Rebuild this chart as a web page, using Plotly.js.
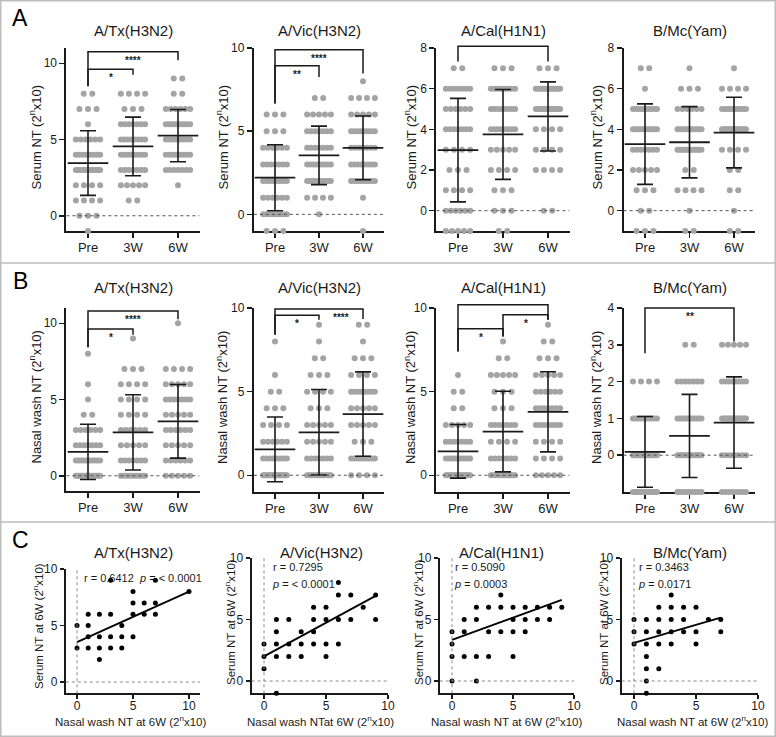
<!DOCTYPE html>
<html><head><meta charset="utf-8">
<script src="https://cdn.plot.ly/plotly-3.0.1.min.js"></script>
<style>body{margin:0;background:#fff}#chart{width:776px;height:737px}</style>
</head><body><div id="chart"></div>
<script>
// ---------------- DATA ----------------
const timepoints = ['Pre', '3W', '6W'];

// Panel A: serum NT, number of subjects at each titre level (levels high -> low)
const serumTxLevels = [9, 8, 7, 6, 5, 4, 3, 2, 1, 0, -1];
const serumTxPre = [0, 2, 3, 1, 6, 8, 12, 4, 4, 3, 1];
const serumTx3W  = [0, 4, 3, 7, 8, 8, 7, 5, 2, 0, 0];
const serumTx6W  = [2, 2, 6, 10, 8, 8, 7, 1, 0, 0, 0];

const serumVicLevels = [8, 7, 6, 5, 4, 3, 2, 1, 0, -1];
const serumVicPre = [0, 0, 3, 3, 6, 7, 8, 6, 8, 3];
const serumVic3W  = [0, 2, 5, 7, 7, 9, 9, 4, 1, 0];
const serumVic6W  = [1, 4, 5, 8, 7, 8, 9, 1, 0, 1];

const serumCalLevels = [7, 6, 5, 4, 3, 2, 1, 0, -1];
const serumCalPre = [2, 7, 6, 7, 4, 3, 4, 6, 5];
const serumCal3W  = [3, 8, 8, 8, 5, 4, 3, 3, 2];
const serumCal6W  = [3, 12, 15, 4, 4, 4, 0, 2, 0];

const serumMcLevels = [7, 6, 5, 4, 3, 2, 1, 0, -1];
const serumMcPre = [2, 1, 9, 12, 7, 5, 3, 2, 3];
const serumMc3W  = [1, 3, 6, 12, 13, 2, 4, 1, 2];
const serumMc6W  = [1, 4, 10, 18, 4, 2, 2, 1, 2];

// Panel B: nasal wash NT
const nasalTxLevels = [10, 9, 8, 7, 6, 5, 4, 3, 2, 1, 0];
const nasalTxPre = [0, 0, 1, 0, 1, 1, 2, 6, 7, 10, 16];
const nasalTx3W  = [0, 1, 0, 3, 4, 4, 4, 6, 5, 7, 10];
const nasalTx6W  = [1, 0, 0, 4, 5, 7, 5, 6, 5, 6, 5];

const nasalVicLevels = [9, 8, 7, 6, 5, 4, 3, 2, 1, 0];
const nasalVicPre = [0, 1, 0, 1, 2, 3, 4, 6, 8, 19];
const nasalVic3W  = [1, 1, 2, 3, 4, 3, 5, 5, 7, 13];
const nasalVic6W  = [2, 1, 3, 4, 8, 5, 5, 3, 9, 4];

const nasalCalLevels = [9, 8, 7, 6, 5, 4, 3, 2, 1, 0];
const nasalCalPre = [0, 0, 0, 1, 2, 2, 5, 7, 10, 17];
const nasalCal3W  = [0, 1, 2, 5, 3, 3, 7, 4, 7, 12];
const nasalCal6W  = [1, 2, 3, 5, 6, 7, 7, 4, 4, 5];

const nasalMcLevels = [3, 2, 1, 0, -1];
const nasalMcPre = [0, 4, 10, 16, 14];
const nasalMc3W  = [2, 7, 12, 14, 9];
const nasalMc6W  = [5, 8, 16, 7, 8];

// Panel C: nasal wash NT (x) vs serum NT (y) at 6W
const corrTxNasal  = [0, 0, 1, 1, 1, 1, 2, 2, 2, 2, 3, 3, 3, 3, 4, 4, 4, 5, 5, 5, 5, 6, 6, 7, 7, 7, 10];
const corrTxSerum  = [5, 3, 6, 5, 4, 3, 6, 4, 3, 2, 9, 6, 4, 3, 5, 4, 3, 8, 7, 6, 4, 7, 6, 9, 7, 6, 8];
const corrVicNasal = [0, 0, 0, 1, 1, 1, 1, 1, 2, 2, 2, 3, 3, 3, 4, 4, 4, 4, 5, 5, 5, 5, 6, 6, 6, 6, 7, 7, 8, 9, 9];
const corrVicSerum = [3, 2, 1, 5, 4, 3, 2, -1, 5, 3, 2, 4, 3, 2, 6, 5, 4, 3, 6, 5, 3, 2, 8, 7, 5, 3, 7, 5, 6, 7, 5];
const corrCalNasal = [0, 0, 0, 0, 1, 1, 1, 2, 2, 2, 2, 3, 3, 3, 4, 4, 4, 5, 5, 5, 5, 6, 6, 6, 7, 7, 8, 8, 9];
const corrCalSerum = [4, 3, 2, 0, 5, 4, 2, 6, 5, 2, 0, 6, 4, 2, 7, 6, 4, 6, 5, 4, 2, 6, 5, 4, 6, 5, 6, 5, 6];
const corrMcNasal  = [0, 0, 0, 1, 1, 1, 1, 1, 1, 1, 2, 2, 2, 2, 2, 3, 3, 3, 3, 3, 4, 4, 4, 5, 5, 5, 6, 7, 7];
const corrMcSerum  = [5, 4, 3, 5, 4, 3, 2, 1, 0, -1, 6, 5, 4, 3, 1, 7, 6, 5, 4, 3, 6, 5, 4, 6, 4, 3, 5, 5, 4];

const fitIntercept = [3.53, 2.0, 3.35, 3.1];
const fitSlope     = [0.447, 0.547, 0.36, 0.293];
const rValues = ['0.6412', '0.7295', '0.5090', '0.3463'];
const pValues = ['< 0.0001', '< 0.0001', '0.0003', '0.0171'];

const strainNames = ['A/Tx(H3N2)', 'A/Vic(H3N2)', 'A/Cal(H1N1)', 'B/Mc(Yam)'];

// ---------------- LAYOUT / STYLE ----------------
const W = 776, H = 737;
const F = 'Liberation Sans, Arial, Helvetica, sans-serif';
const INK = '#1a1a1a';
const DOT = '#a4a4a4';
const fx = p => p / W;
const fy = p => 1 - p / H;

const XR = [-0.48, 2.48];
const catPx = [[88, 178], [275, 363], [458, 548], [645, 734]];
const colDom = catPx.map(([a, b]) => { const s = (b - a) / 2; return [a + XR[0] * s, a + XR[1] * s]; });
const yTitleXA = [35, 222, 410, 596];

const SERUM_T = 'Serum NT (2<sup>n</sup>x10)';
const NASAL_T = 'Nasal wash NT (2<sup>n</sup>x10)';

const dotPanels = [
  {col: 0, levels: serumTxLevels, counts: [serumTxPre, serumTx3W, serumTx6W], yr: [-1, 11], yt: [0, 5, 10], py: [48, 231], ytitle: SERUM_T, titleY: 30,
   br: [{a: 0, b: 2, y: 10.76, la: 8.5, lb: 10.2, t: '****'}, {a: 0, b: 1, y: 9.61, la: 8.5, lb: 9.24, t: '*'}]},
  {col: 1, levels: serumVicLevels, counts: [serumVicPre, serumVic3W, serumVic6W], yr: [-1, 10], yt: [0, 5, 10], py: [48, 231], ytitle: SERUM_T, titleY: 30,
   br: [{a: 0, b: 2, y: 9.9, la: 6.66, lb: 8.46, t: '****'}, {a: 0, b: 1, y: 8.94, la: 6.66, lb: 8.26, t: '**'}]},
  {col: 2, levels: serumCalLevels, counts: [serumCalPre, serumCal3W, serumCal6W], yr: [-1, 8], yt: [0, 2, 4, 6, 8], py: [48, 231], ytitle: SERUM_T, titleY: 30,
   br: [{a: 0, b: 2, y: 8.08, la: 7.34, lb: 7.34, t: '**'}]},
  {col: 3, levels: serumMcLevels, counts: [serumMcPre, serumMc3W, serumMc6W], yr: [-1, 8], yt: [0, 2, 4, 6, 8], py: [48, 231], ytitle: SERUM_T, titleY: 30,
   br: []},
  {col: 0, levels: nasalTxLevels, counts: [nasalTxPre, nasalTx3W, nasalTx6W], yr: [-1, 11], yt: [0, 5, 10], py: [308, 491], ytitle: NASAL_T, titleY: 287,
   br: [{a: 0, b: 2, y: 10.8, la: 8.43, lb: 10.26, t: '****'}, {a: 0, b: 1, y: 9.63, la: 8.43, lb: 9.24, t: '*'}]},
  {col: 1, levels: nasalVicLevels, counts: [nasalVicPre, nasalVic3W, nasalVic6W], yr: [-1, 10], yt: [0, 5, 10], py: [308, 492], ytitle: NASAL_T, titleY: 287,
   br: [{a: 0, b: 2, y: 9.94, la: 8.4, lb: 9.34, t: '****', tx: 1.5}, {a: 0, b: 1, y: 9.56, la: 8.4, lb: 9.3, t: '*'}]},
  {col: 2, levels: nasalCalLevels, counts: [nasalCalPre, nasalCal3W, nasalCal6W], yr: [-1, 10], yt: [0, 5, 10], py: [308, 492], ytitle: NASAL_T, titleY: 287,
   br: [{a: 0, b: 2, y: 10.2, la: 7.4, lb: 9.3, t: '****'}, {a: 1, b: 2, y: 9.6, la: 8.3, lb: 9.3, t: '*'}, {a: 0, b: 1, y: 8.76, la: 7.4, lb: 8.3, t: '*'}]},
  {col: 3, levels: nasalMcLevels, counts: [nasalMcPre, nasalMc3W, nasalMc6W], yr: [-1, 4], yt: [0, 1, 2, 3, 4], py: [308, 492], ytitle: NASAL_T, titleY: 287,
   br: [{a: 0, b: 2, y: 4.0, la: 2.77, lb: 3.09, t: '**'}]}
];

const scatPanels = [
  {xs: corrTxNasal, ys: corrTxSerum, px: [65.8, 200.2], xr: [-1, 11], py: [569, 693.3], titleX: 133, ytX: 38, xtX: 130, xtitle: 'Nasal wash NT at 6W (2<sup>n</sup>x10)', oneLine: true, rpX: 82},
  {xs: corrVicNasal, ys: corrVicSerum, px: [251.6, 388], xr: [-1, 10], py: [558, 693.3], titleX: 321, ytX: 230, xtX: 320, xtitle: 'Nasal wash NTat 6W (2<sup>n</sup>x10)', rpX: 271},
  {xs: corrCalNasal, ys: corrCalSerum, px: [439.8, 574], xr: [-1, 10], py: [558, 693.3], titleX: 501, ytX: 418, xtX: 506, xtitle: 'Nasal wash NT at 6W (2<sup>n</sup>x10)', rpX: 453},
  {xs: corrMcNasal, ys: corrMcSerum, px: [621.6, 758], xr: [-1, 10], py: [558, 693.3], titleX: 690, ytX: 603, xtX: 692, xtitle: 'Nasal wash NT at 6W (2<sup>n</sup>x10)', rpX: 637}
];

const DOT_STEP = 0.19, DOT_HALF = 0.27;

// ---------------- BUILD ----------------
const traces = [], shapes = [], annotations = [];
const layout = {
  width: W, height: H, autosize: false, showlegend: false,
  margin: {l: 0, r: 0, t: 0, b: 0}, paper_bgcolor: '#fff', plot_bgcolor: 'rgba(0,0,0,0)',
  font: {family: F, color: INK}
};

const axBase = () => ({
  showline: true, linecolor: INK, linewidth: 2, ticks: 'outside', ticklen: 5, tickwidth: 1.5, tickcolor: INK,
  showgrid: false, zeroline: false, fixedrange: true, layer: 'below traces',
  tickfont: {family: F, size: 12, color: INK}
});

function spreadColumn(levels, counts, ci) {
  const xs = [], ys = [];
  levels.forEach((lv, i) => {
    const k = counts[i];
    if (!k) return;
    const step = k > 1 ? Math.min(DOT_STEP, 2 * DOT_HALF / (k - 1)) : 0;
    for (let j = 0; j < k; j++) { xs.push(ci + (j - (k - 1) / 2) * step); ys.push(lv); }
  });
  return {xs, ys};
}
function meanSd(levels, counts) {
  let n = 0, s = 0;
  levels.forEach((lv, i) => { n += counts[i]; s += lv * counts[i]; });
  const m = s / n;
  let v = 0;
  levels.forEach((lv, i) => { v += counts[i] * (lv - m) * (lv - m); });
  return [m, Math.sqrt(v / (n - 1))];
}

let k = 0;
dotPanels.forEach((p, idx) => {
  k++;
  const xa = 'xaxis' + (k === 1 ? '' : k), ya = 'yaxis' + (k === 1 ? '' : k);
  const xr = 'x' + (k === 1 ? '' : k), yr = 'y' + (k === 1 ? '' : k);
  const dom = colDom[p.col];
  const xd = [fx(dom[0]), fx(dom[1])], yd = [fy(p.py[1]), fy(p.py[0])];
  layout[xa] = Object.assign(axBase(), {domain: xd, range: XR, anchor: yr, tickvals: [0, 1, 2], ticktext: timepoints,
    ticklabelstandoff: -2, tickfont: {family: F, size: 13, color: INK}});
  layout[ya] = Object.assign(axBase(), {domain: yd, range: p.yr, anchor: xr, tickvals: p.yt});

  const allX = [], allY = [], means = [], sds = [];
  p.counts.forEach((c, ci) => {
    const s = spreadColumn(p.levels, c, ci);
    allX.push(...s.xs); allY.push(...s.ys);
    const [m, sd] = meanSd(p.levels, c);
    means.push(m); sds.push(sd);
  });
  traces.push({type: 'scatter', mode: 'markers', x: allX, y: allY, xaxis: xr, yaxis: yr, cliponaxis: false, hoverinfo: 'skip',
    marker: {size: 6, color: DOT, line: {width: 0}}});
  traces.push({type: 'scatter', mode: 'markers', x: [0, 1, 2], y: means, xaxis: xr, yaxis: yr, cliponaxis: false, hoverinfo: 'skip',
    marker: {symbol: 'line-ew', size: 29, color: INK, line: {color: INK, width: 1.8}},
    error_y: {type: 'data', array: sds, visible: true, width: 8, thickness: 1.6, color: INK}});

  // zero reference line
  shapes.push({type: 'line', xref: xr, yref: yr, x0: XR[0], x1: XR[1], y0: 0, y1: 0, line: {color: '#555', width: 1, dash: 'dot'}});

  // significance brackets (converted to paper so they are not clipped)
  const toPX = v => xd[0] + (v - XR[0]) / (XR[1] - XR[0]) * (xd[1] - xd[0]);
  const toPY = v => yd[0] + (v - p.yr[0]) / (p.yr[1] - p.yr[0]) * (yd[1] - yd[0]);
  const bl = {color: INK, width: 1.5};
  p.br.forEach(b => {
    shapes.push({type: 'path', xref: 'paper', yref: 'paper', line: bl,
      path: `M${toPX(b.a)},${toPY(b.la)} L${toPX(b.a)},${toPY(b.y)} L${toPX(b.b)},${toPY(b.y)} L${toPX(b.b)},${toPY(b.lb)}`});
    annotations.push({xref: xr, yref: yr, x: b.tx !== undefined ? b.tx : (b.a + b.b) / 2, y: b.y, yanchor: 'top', xanchor: 'center', yshift: -1,
      text: '<b>' + b.t + '</b>', showarrow: false, font: {family: F, size: 10, color: '#222222'}});
  });

  // titles
  annotations.push({xref: 'paper', yref: 'paper', x: fx((catPx[p.col][0] + catPx[p.col][1]) / 2), y: fy(p.titleY), xanchor: 'center', yanchor: 'middle',
    text: strainNames[p.col], showarrow: false, font: {family: F, size: 15, color: INK}});
  annotations.push({xref: 'paper', yref: 'paper', x: fx(yTitleXA[p.col]), y: fy((p.py[0] + p.py[1]) / 2 - 2), xanchor: 'center', yanchor: 'middle',
    textangle: -90, text: p.ytitle, showarrow: false, font: {family: F, size: 13, color: INK}});
});

scatPanels.forEach((p, i) => {
  k++;
  const xa = 'xaxis' + k, ya = 'yaxis' + k, xr = 'x' + k, yr = 'y' + k;
  const xd = [fx(p.px[0]), fx(p.px[1])], yd = [fy(p.py[1]), fy(p.py[0])];
  const YR = [-1, 10];
  layout[xa] = Object.assign(axBase(), {domain: xd, range: p.xr, anchor: yr, tickvals: [0, 5, 10], ticklen: 4, ticklabelstandoff: -4});
  layout[ya] = Object.assign(axBase(), {domain: yd, range: YR, anchor: xr, tickvals: [0, 5, 10], ticklen: 4});
  shapes.push({type: 'line', xref: xr, yref: yr, x0: p.xr[0], x1: p.xr[1], y0: 0, y1: 0, line: {color: '#888', width: 1, dash: 'dot'}});
  shapes.push({type: 'line', xref: xr, yref: yr, x0: 0, x1: 0, y0: YR[0], y1: YR[1], line: {color: '#888', width: 1, dash: 'dot'}});
  traces.push({type: 'scatter', mode: 'markers', x: p.xs, y: p.ys, xaxis: xr, yaxis: yr, cliponaxis: false, hoverinfo: 'skip',
    marker: {size: 5, color: '#000'}});
  const x0 = Math.min(...p.xs), x1 = Math.max(...p.xs);
  traces.push({type: 'scatter', mode: 'lines', x: [x0, x1], y: [fitIntercept[i] + fitSlope[i] * x0, fitIntercept[i] + fitSlope[i] * x1],
    xaxis: xr, yaxis: yr, hoverinfo: 'skip', line: {color: '#000', width: 1.8}});

  annotations.push({xref: 'paper', yref: 'paper', x: fx(p.titleX), y: fy(552), xanchor: 'center', yanchor: 'middle',
    text: strainNames[i], showarrow: false, font: {family: F, size: 15, color: INK}});
  annotations.push({xref: 'paper', yref: 'paper', x: fx(p.ytX), y: fy(i === 0 ? 626 : 622), xanchor: 'center', yanchor: 'middle', textangle: -90,
    text: 'Serum NT at 6W (2<sup>n</sup>x10)', showarrow: false, font: {family: F, size: 11.5, color: INK}});
  annotations.push({xref: 'paper', yref: 'paper', x: fx(p.xtX), y: fy(721), xanchor: 'center', yanchor: 'middle',
    text: p.xtitle, showarrow: false, font: {family: F, size: 11.5, color: INK}});
  if (p.oneLine) {
    annotations.push({xref: 'paper', yref: 'paper', x: fx(p.rpX), y: fy(578), xanchor: 'left', yanchor: 'middle',
      text: 'r = ' + rValues[i] + '  <i>p</i> = ' + pValues[i], showarrow: false, font: {family: F, size: 11, color: INK}});
  } else {
    annotations.push({xref: 'paper', yref: 'paper', x: fx(p.rpX), y: fy(567), xanchor: 'left', yanchor: 'middle',
      text: 'r = ' + rValues[i], showarrow: false, font: {family: F, size: 11, color: INK}});
    annotations.push({xref: 'paper', yref: 'paper', x: fx(p.rpX - 1), y: fy(584), xanchor: 'left', yanchor: 'middle',
      text: '<i>p</i> = ' + pValues[i], showarrow: false, font: {family: F, size: 11, color: INK}});
  }
});

// panel letters
[['A', 18], ['B', 281], ['C', 540]].forEach(([t, y]) => {
  annotations.push({xref: 'paper', yref: 'paper', x: fx(20), y: fy(y), xanchor: 'center', yanchor: 'middle', text: t, showarrow: false,
    font: {family: F, size: 23, color: '#000'}});
});

// frames
const fr = {color: '#bdbdbd', width: 1.5};
shapes.push({type: 'rect', xref: 'paper', yref: 'paper', x0: fx(0.75), x1: fx(775.25), y0: fy(736.25), y1: fy(0.75), line: fr});
shapes.push({type: 'line', xref: 'paper', yref: 'paper', x0: 0, x1: 1, y0: fy(263), y1: fy(263), line: fr});
shapes.push({type: 'line', xref: 'paper', yref: 'paper', x0: 0, x1: 1, y0: fy(522), y1: fy(522), line: fr});

layout.shapes = shapes;
layout.annotations = annotations;
Plotly.newPlot('chart', traces, layout, {staticPlot: true, displayModeBar: false});
</script>
</body></html>
